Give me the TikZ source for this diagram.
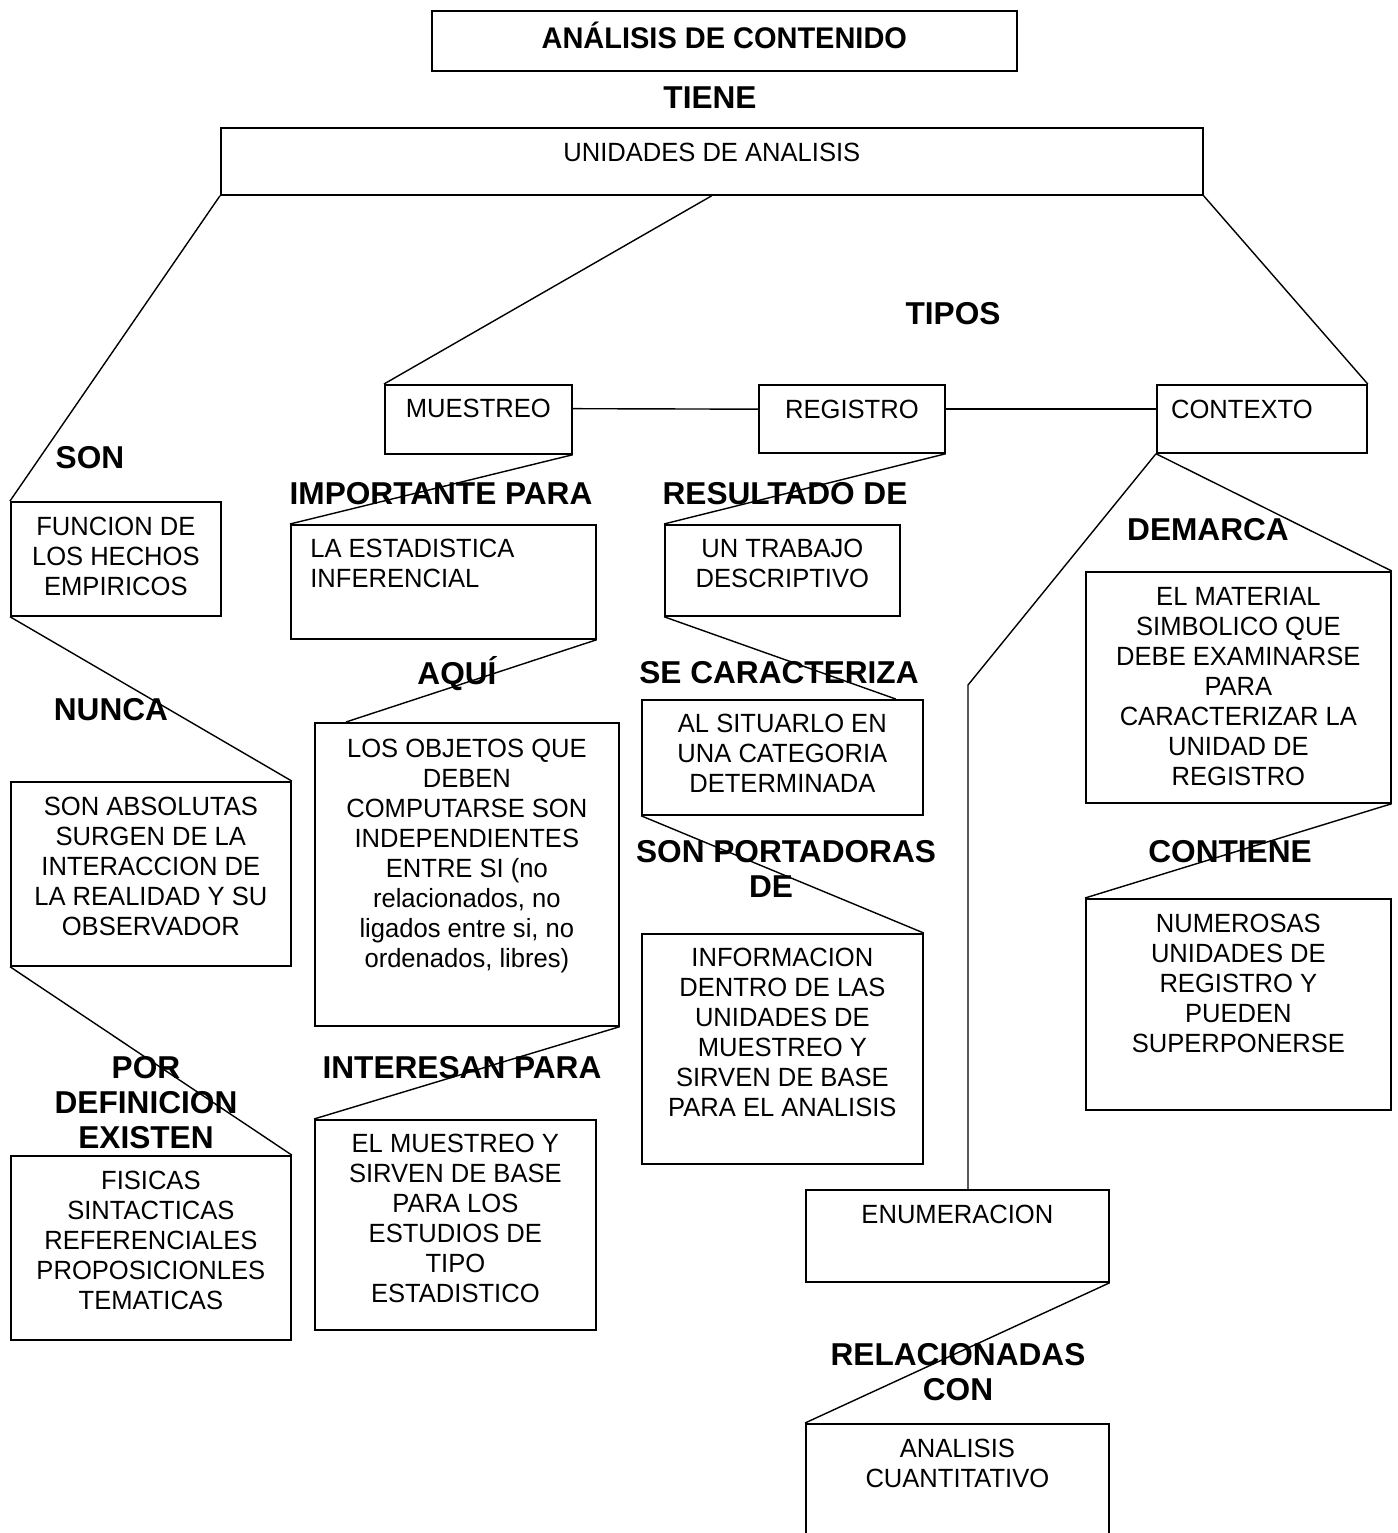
\documentclass[tikz,border=0pt]{standalone}
\usepackage{fontspec}
\setmainfont{Liberation Sans}[FakeStretch=0.97]
\newfontfamily\rotulofont{Liberation Sans}
\usetikzlibrary{positioning}

\begin{document}
\begin{tikzpicture}[x=0.02cm, y=-0.02cm,
    caja/.style 2 args={draw, line width=1pt, anchor=north west, inner sep=0pt,
                        minimum width=#1, minimum height=#2},
    texto/.style={inner sep=0pt, align=center,
                  font=\fontsize{15pt}{17.07pt}\selectfont},
    rotulo/.style={inner sep=0pt, align=center, anchor=north,
                   font=\rotulofont\fontsize{18pt}{19.9pt}\selectfont\bfseries},
    enlace/.style={line width=0.8pt}]
                \useasboundingbox (0,0) rectangle (1397,1533);

                % Title and main box
                \node[caja={11.7cm}{1.2cm}, inner sep=0pt, text height=12.2pt, text depth=3.4pt,
                      font=\fontsize{17pt}{19pt}\selectfont\bfseries] (titulo) at (431,10) {ANÁLISIS DE CONTENIDO};
                \node[caja={19.64cm}{1.34cm}] (unidades) at (220,127) {};
                \node[texto, below=0.31cm of unidades.north] (tunidades) {UNIDADES DE ANALISIS};

                % Types
                \node[caja={3.74cm}{1.38cm}] (muestreo) at (384,384) {};
                \node[texto, below=0.3cm of muestreo.north] (tmuestreo) {MUESTREO};
                \node[caja={3.72cm}{1.36cm}] (registro) at (758,384) {};
                \node[texto, below=0.31cm of registro.north] (tregistro) {REGISTRO};
                \node[caja={4.2cm}{1.36cm}] (contexto) at (1156,384) {};
                \node[texto, below=0.31cm of contexto.north, xshift=-0.4cm] (tcontexto) {CONTEXTO};

                % Left column
                \node[caja={4.2cm}{2.28cm}] (funcion) at (10,501) {};
                \node[texto, below=0.31cm of funcion.north] (tfuncion) {FUNCION DE\\LOS HECHOS\\EMPIRICOS};
                \node[caja={5.6cm}{3.68cm}] (absolutas) at (10,781) {};
                \node[texto, below=0.31cm of absolutas.north] (tabsolutas) {SON ABSOLUTAS\\SURGEN DE LA\\INTERACCION DE\\LA REALIDAD Y SU\\OBSERVADOR};
                \node[caja={5.6cm}{3.68cm}] (fisicas) at (10,1155) {};
                \node[texto, below=0.31cm of fisicas.north] (tfisicas) {FISICAS\\SINTACTICAS\\REFERENCIALES\\PROPOSICIONLES\\TEMATICAS};

                % Muestreo column
                \node[caja={6.1cm}{2.28cm}] (estadistica) at (290,524) {};
                \node[texto, align=left, below right=0.3cm and 0.4cm of estadistica.north west] (testadistica) {LA ESTADISTICA\\INFERENCIAL};
                \node[caja={6.08cm}{6.06cm}] (objetos) at (314,722) {};
                \node[texto, below=0.34cm of objetos.north] (tobjetos) {LOS OBJETOS QUE\\DEBEN\\COMPUTARSE SON\\INDEPENDIENTES\\ENTRE SI (no\\relacionados, no\\ligados entre si, no\\ordenados, libres)};
                \node[caja={5.62cm}{4.2cm}] (elmuestreo) at (314,1119) {};
                \node[texto, below=0.29cm of elmuestreo.north] (telmuestreo) {EL MUESTREO Y\\SIRVEN DE BASE\\PARA LOS\\ESTUDIOS DE\\TIPO\\ESTADISTICO};

                % Registro column
                \node[caja={4.7cm}{1.82cm}] (trabajo) at (664,524) {};
                \node[texto, below=0.3cm of trabajo.north] (ttrabajo) {UN TRABAJO\\DESCRIPTIVO};
                \node[caja={5.62cm}{2.3cm}] (situarlo) at (641,699) {};
                \node[texto, below=0.3cm of situarlo.north] (tsituarlo) {AL SITUARLO EN\\UNA CATEGORIA\\DETERMINADA};
                \node[caja={5.62cm}{4.6cm}] (informacion) at (641,933) {};
                \node[texto, below=0.29cm of informacion.north] (tinformacion) {INFORMACION\\DENTRO DE LAS\\UNIDADES DE\\MUESTREO Y\\SIRVEN DE BASE\\PARA EL ANALISIS};

                % Contexto column
                \node[caja={6.1cm}{4.62cm}] (material) at (1085,571) {};
                \node[texto, below=0.33cm of material.north] (tmaterial) {EL MATERIAL\\SIMBOLICO QUE\\DEBE EXAMINARSE\\PARA\\CARACTERIZAR LA\\UNIDAD DE\\REGISTRO};
                \node[caja={6.1cm}{4.22cm}] (numerosas) at (1085,898) {};
                \node[texto, below=0.31cm of numerosas.north] (tnumerosas) {NUMEROSAS\\UNIDADES DE\\REGISTRO Y\\PUEDEN\\SUPERPONERSE};
                \node[caja={6.06cm}{1.84cm}] (enumeracion) at (805,1189) {};
                \node[texto, below=0.32cm of enumeracion.north] (tenumeracion) {ENUMERACION};
                \node[caja={6.06cm}{2.6cm}] (cuantitativo) at (805,1423) {};
                \node[texto, below=0.31cm of cuantitativo.north] (tcuantitativo) {ANALISIS\\CUANTITATIVO};

                % Link words
                \node[rotulo] (tiene) at (710,86) {TIENE};
                \node[rotulo] (tipos) at (953,302) {TIPOS};
                \node[rotulo] (son) at (90,446) {SON};
                \node[rotulo] (importante) at (441,482) {IMPORTANTE PARA};
                \node[rotulo] (resultado) at (785,482) {RESULTADO DE};
                \node[rotulo] (demarca) at (1208,518) {DEMARCA};
                \node[rotulo, text height=12.9pt] (aqui) at (457,661) {AQUÍ};
                \node[rotulo] (caracteriza) at (779,661) {SE CARACTERIZA};
                \node[rotulo] (nunca) at (111,698) {NUNCA};
                \node[rotulo] (portadoras) at (786,840) {SON PORTADORAS\\DE\hspace*{0.6cm}};
                \node[rotulo] (contiene) at (1230,840) {CONTIENE};
                \node[rotulo] (definicion) at (146,1056) {POR\\DEFINICION\\EXISTEN};
                \node[rotulo] (interesan) at (462,1056) {INTERESAN PARA};
                \node[rotulo] (relacionadas) at (958,1343) {RELACIONADAS\\CON};

                % Connectors
                \draw[enlace] (unidades.south west) -- (funcion.north west);
                \draw[enlace] (unidades.south) -- (muestreo.north west);
                \draw[enlace] (unidades.south east) -- (contexto.north east);
                \draw[enlace] (muestreo.east |- tmuestreo.center) -- (registro.west |- tregistro.center);
                \draw[enlace] (registro.east |- tregistro.center) -- (contexto.west |- tregistro.center);

                \draw[enlace] (funcion.south west) -- (absolutas.north east);
                \draw[enlace] (absolutas.south west) -- (fisicas.north east);

                \draw[enlace] (muestreo.south east) -- (estadistica.north west);
                \draw[enlace] (estadistica.south east) -- ([xshift=0.64cm]objetos.north west);
                \draw[enlace] (objetos.south east) -- (elmuestreo.north west);

                \draw[enlace] (registro.south east) -- (trabajo.north west);
                \draw[enlace] (trabajo.south west) -- ([xshift=-0.56cm]situarlo.north east);
                \draw[enlace] (situarlo.south west) -- (informacion.north east);

                \draw[enlace] (contexto.south west) -- (material.north east);
                \draw[enlace] (material.south east) -- (numerosas.north west);
                \coordinate (quiebre) at (968,685);
                \draw[enlace] (contexto.south west) -- (quiebre) -- (quiebre |- enumeracion.north);
                \draw[enlace] (enumeracion.south east) -- (cuantitativo.north west);

            \end{tikzpicture}
\end{document}
